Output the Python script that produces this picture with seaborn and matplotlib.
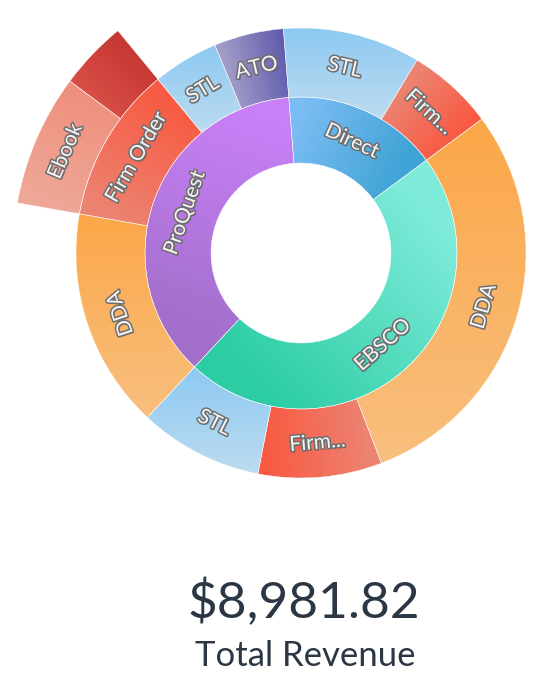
import numpy as np
import pandas as pd
import seaborn as sns
import matplotlib
matplotlib.use("Agg")
import matplotlib.pyplot as plt
import matplotlib.patheffects as pe

# ---------------- data ----------------
vendor = ["Direct", "Direct", "EBSCO", "EBSCO", "EBSCO",
          "ProQuest", "ProQuest", "ProQuest", "ProQuest", "ProQuest"]
model = ["STL", "Firm Order", "DDA", "Firm Order", "STL",
         "DDA", "Firm Order", "Firm Order", "STL", "ATO"]
fmt = ["", "", "", "", "", "", "Ebook", "Print", "", ""]
revenue = [886.0, 561.0, 2633.82, 798.0, 798.0,
           1422.0, 664.0, 346.0, 424.0, 449.0]

# labels as they are shown on the chart (truncated where the segment is small)
mid_labels = ["STL", "Firm...", "DDA", "Firm...", "STL", "DDA", "Firm Order", "STL", "ATO"]
outer_labels = ["Ebook", ""]
total_label = "Total Revenue"

# ---------------- styling ----------------
vendor_grad = {"Direct": ("#7abdf4", "#3fa3d5"),
               "EBSCO": ("#7eebd9", "#2ccda5"),
               "ProQuest": ("#a26fca", "#c880f7")}
model_grad = {"STL": ("#8dc9f2", "#bddcf0"),
              "Firm Order": ("#ec8472", "#f85a42"),
              "DDA": ("#fca748", "#f8bf7f"),
              "ATO": ("#a29cc9", "#625ead")}
format_grad = {"Ebook": ("#eea898", "#f0907e"),
               "Print": ("#d64e45", "#c73832")}
vertical_cats = {"STL", "DDA"}

sns.set_theme(style="white")
plt.rcParams["font.family"] = ["Lato", "DejaVu Sans"]

df = pd.DataFrame({"vendor": vendor, "model": model, "fmt": fmt, "revenue": revenue})
inner = df.groupby("vendor", sort=False)["revenue"].sum()
middle = df.groupby(["vendor", "model"], sort=False)["revenue"].sum()
total = df["revenue"].sum()

fig = plt.figure(figsize=(5.5, 7), dpi=100)
ax = fig.add_axes([0, 0, 1, 1])

cx, cy = 301, 447
r_hole, r1, r2, r3 = 90, 156, 225, 288
start = 94.5

def gradient_fill(wedge, c0, c1, vertical=False):
    ext = wedge.get_path().get_extents()
    xs = np.linspace(ext.x0, ext.x1, 200)
    ys = np.linspace(ext.y0, ext.y1, 200)
    X, Y = np.meshgrid(xs, ys)
    if vertical:
        t = (ext.y1 - Y) / (ext.y1 - ext.y0)
    else:
        th_a, th_b = np.deg2rad(wedge.theta2), np.deg2rad(wedge.theta1)
        rm = wedge.r - wedge.width / 2
        p0 = np.array([cx + rm * np.cos(th_a), cy + rm * np.sin(th_a)])
        p1 = np.array([cx + rm * np.cos(th_b), cy + rm * np.sin(th_b)])
        d = p1 - p0
        t = ((X - p0[0]) * d[0] + (Y - p0[1]) * d[1]) / (d @ d)
    t = np.clip(t, 0, 1)
    pal = np.array(sns.blend_palette([c0, c1], n_colors=256))
    img = pal[(t * 255).astype(int)]
    im = ax.imshow(img, extent=(ext.x0, ext.x1, ext.y0, ext.y1), origin="lower",
                   interpolation="bilinear", aspect="auto", zorder=1)
    im.set_clip_path(wedge)
    wedge.set_facecolor("none")
    wedge.set_edgecolor("white")
    wedge.set_linewidth(0.3)
    wedge.set_zorder(2)

label_fx = [pe.withSimplePatchShadow(offset=(1.0, -1.0), shadow_rgbFace="#000000", alpha=0.35),
            pe.Stroke(linewidth=2.2, foreground="#707070"), pe.Normal()]

def put_label(wedge, text):
    if not text:
        return
    thm = (wedge.theta1 + wedge.theta2) / 2
    rm = wedge.r - wedge.width / 2
    x = cx + rm * np.cos(np.deg2rad(thm))
    y = cy + rm * np.sin(np.deg2rad(thm))
    rot = ((thm - 90) + 180) % 360 - 180
    if rot > 115:
        rot -= 180
    elif rot < -65:
        rot += 180
    ax.text(x, y, text, rotation=rot, rotation_mode="anchor", ha="center", va="center",
            fontsize=15, color="#f6f6f6", path_effects=label_fx, zorder=5)

# inner ring
w_in, _ = ax.pie(inner.values, radius=r1, center=(cx, cy), startangle=start,
                 counterclock=False, wedgeprops=dict(width=r1 - r_hole))
for w, name in zip(w_in, inner.index):
    gradient_fill(w, *vendor_grad[name])
    put_label(w, name)

# middle ring
w_mid, _ = ax.pie(middle.values, radius=r2, center=(cx, cy), startangle=start,
                  counterclock=False, wedgeprops=dict(width=r2 - r1))
for w, (v, m), lab in zip(w_mid, middle.index, mid_labels):
    gradient_fill(w, *model_grad[m], vertical=m in vertical_cats)
    put_label(w, lab)

# outer ring (only ProQuest Firm Order has a breakdown)
sub = df[df["fmt"] != ""]
idx = sub.index
before = df.loc[: idx.min() - 1, "revenue"].sum()
after = df.loc[idx.max() + 1:, "revenue"].sum()
outer_vals = [before] + list(sub["revenue"]) + [after]
w_out, _ = ax.pie(outer_vals, radius=r3, center=(cx, cy), startangle=start,
                  counterclock=False, wedgeprops=dict(width=r3 - r2))
w_out[0].set_visible(False)
w_out[-1].set_visible(False)
for w, f, lab in zip(w_out[1:-1], sub["fmt"], outer_labels):
    gradient_fill(w, *format_grad[f])
    put_label(w, lab)

# totals
ax.text(cx + 3, 700 - 603, f"${total:,.2f}", ha="center", va="center",
        fontsize=37, color="#2b3745")
ax.text(cx + 4, 700 - 656, total_label, ha="center", va="center",
        fontsize=25, color="#2b3745")

ax.set_xlim(0, 550)
ax.set_ylim(0, 700)
ax.set_aspect("equal")
ax.axis("off")
fig.savefig("out.png", dpi=100)
